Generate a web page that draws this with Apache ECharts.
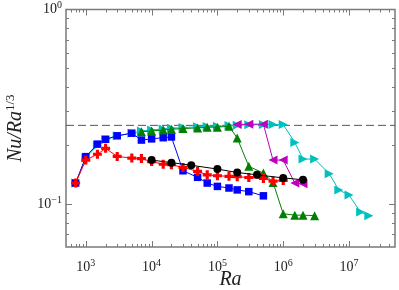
<!DOCTYPE html>
<html><head><meta charset="utf-8">
<script src="https://cdn.jsdelivr.net/npm/echarts@6/dist/echarts.min.js"></script>
<style>html,body{margin:0;padding:0;background:#fff}#c{width:399px;height:290px}</style>
</head><body><div id="c"></div>
<script>
// ---- data ----
const raBlue = [700,1000,1500,2000,3000,5000,7000,10000,15000,20000,30000,50000,70000,1e5,1.5e5,2e5,3e5,5e5];
const nuBlue = [0.128,0.175,0.203,0.215,0.224,0.231,0.213,0.216,0.219,0.221,0.148,0.137,0.128,0.123,0.1207,0.118,0.1156,0.110];

const raCyan = [700,1000,1500,2000,3000,5000,7000,10000,15000,20000,30000,50000,70000,1e5,1.5e5,2e5,3e5,5e5,7e5,1e6,1.5e6,2e6,3e6,5e6,7e6,1e7,1.5e7,2e7];
const nuCyan = [0.128,0.172,0.200,0.214,0.224,0.231,0.237,0.240,0.243,0.245,0.247,0.249,0.250,0.251,0.253,0.254,0.255,0.256,0.256,0.256,0.207,0.170,0.170,0.143,0.118,0.111,0.0907,0.087];

const raGreen = [7000,10000,15000,20000,30000,50000,70000,1e5,1.5e5,2e5,3e5,5e5,7e5,1e6,1.5e6,2e6,3e6];
const nuGreen = [0.235,0.237,0.240,0.242,0.244,0.246,0.248,0.248,0.251,0.218,0.156,0.144,0.129,0.089,0.0875,0.0875,0.087];

const raMag = [2e5,3e5,5e5,7e5,1e6,1.5e6,2e6];
const nuMag = [0.256,0.257,0.257,0.168,0.168,0.128,0.127];

const raRed = [700,1000,1500,2000,3000,5000,7000,10000,15000,20000,30000,50000,70000,1e5,1.5e5,2e5,3e5,5e5,7e5,1e6];
const nuRed = [0.128,0.168,0.180,0.193,0.1755,0.172,0.171,0.165,0.160,0.159,0.154,0.147,0.141,0.1395,0.1386,0.138,0.1367,0.135,0.131,0.132];

const raBlack = [1e4,2e4,4e4,1e5,2e5,4e5,1e6,2e6];
const nuBlack = [0.168,0.163,0.158,0.151,0.145,0.141,0.136,0.133];

const refRa = [500,5e7];
const refNu = [0.2535,0.2535];

const xMin = 500, xMax = 5e7, yMin = 0.06, yMax = 1;

// ---- helpers ----
const zip = (a,b) => a.map((v,i)=>[v,b[i]]);
const serif = 'Liberation Serif';
const plusPath = 'path://M2.6,0H5.4V2.6H8V5.4H5.4V8H2.6V5.4H0V2.6H2.6Z';
function powLabel(v){
  const l = Math.log10(v);
  const r = Math.round(l);
  if (Math.abs(l-r) > 1e-6) return '';
  return '{b|10}{s|' + (r<0 ? '\u2212'+(-r) : r) + '}';
}
const richLab = {
  b:{fontFamily:serif,fontSize:14,color:'#222'},
  s:{fontFamily:serif,fontSize:10,color:'#222',padding:[0,0,8,0]}
};

function ser(name, ra, nu, color, symbol, size, rot, z){
  return {name, type:'line', data: zip(ra,nu), symbol, symbolSize:size, symbolRotate:rot||0,
    showAllSymbol:true, lineStyle:{color, width:1}, itemStyle:{color}, z: z, animation:false};
}

const chart = echarts.init(document.getElementById('c'), null, {renderer:'canvas'});
chart.setOption({
  animation:false,
  grid:{left:66,right:4,top:9.5,bottom:43,containLabel:false,outerBoundsMode:'none',
        show:true,borderColor:'#7a7a7a',borderWidth:1.5,backgroundColor:'transparent'},
  xAxis:{type:'log',logBase:10,min:xMin,max:xMax,
    axisLine:{show:false},axisTick:{show:false},splitLine:{show:false},minorTick:{show:false},
    axisLabel:{formatter:powLabel,rich:richLab,margin:11,showMinLabel:true,showMaxLabel:true},
    name:'{i|Ra}',nameLocation:'middle',nameGap:23,nameMoveOverlap:false,
    nameTextStyle:{rich:{i:{fontFamily:serif,fontStyle:'italic',fontSize:20,color:'#222'}}}},
  yAxis:{type:'log',logBase:10,min:yMin,max:yMax,
    axisLine:{show:false},axisTick:{show:false},splitLine:{show:false},
    axisLabel:{formatter:powLabel,rich:richLab,margin:4},
    name:'{i|Nu/Ra}{s|1/3}',nameLocation:'middle',nameGap:39,nameMoveOverlap:false,
    nameTextStyle:{rich:{i:{fontFamily:serif,fontStyle:'italic',fontSize:20,color:'#222'},
                         s:{fontFamily:serif,fontSize:13,color:'#222',padding:[0,0,10,0]}}}},
  series:[
    {name:'ref',type:'line',data:zip(refRa,refNu),symbol:'none',lineStyle:{color:'#555',width:1,type:[8,4]},z:1},
    ser('cyan',raCyan,nuCyan,'#00bfbf','triangle',9,-90,2),
    ser('blue',raBlue,nuBlue,'#0000ff','rect',7.5,0,3),
    ser('green',raGreen,nuGreen,'#008000','triangle',9,0,4),
    ser('mag',raMag,nuMag,'#bf00bf','triangle',9,90,5),
    ser('red',raRed,nuRed,'#ff0000',plusPath,9,0,6),
    ser('black',raBlack,nuBlack,'#000000','circle',8,0,7)
  ]
});

// tick marks on all four sides (positions from the chart's own scales)
function addTicks(){
  const els = [];
  const col = '#7a7a7a';
  const p0 = chart.convertToPixel({gridIndex:0},[xMin,yMin]);
  const p1 = chart.convertToPixel({gridIndex:0},[xMax,yMax]);
  const bottom = p0[1], top = p1[1], left = p0[0], right = p1[0];
  for (let d=2; d<=7; d++) for (let m=1; m<=9; m++){
    const v = m*Math.pow(10,d);
    if (v < xMin*1.0001 || v > xMax*0.9999) continue;
    const x = Math.round(chart.convertToPixel({gridIndex:0},[v,1])[0])+0.5;
    const L = m===1 ? 6 : 3;
    els.push({type:'line',shape:{x1:x,y1:bottom,x2:x,y2:bottom-L},style:{stroke:col,lineWidth:1},silent:true});
    els.push({type:'line',shape:{x1:x,y1:top,x2:x,y2:top+L},style:{stroke:col,lineWidth:1},silent:true});
  }
  for (let d=-2; d<=0; d++) for (let m=1; m<=9; m++){
    const v = m*Math.pow(10,d);
    if (v < yMin*1.0001 || v > yMax*0.9999) continue;
    const y = Math.round(chart.convertToPixel({gridIndex:0},[1000,v])[1])+0.5;
    const L = m===1 ? 6 : 3;
    els.push({type:'line',shape:{x1:left,y1:y,x2:left+L,y2:y},style:{stroke:col,lineWidth:1},silent:true});
    els.push({type:'line',shape:{x1:right,y1:y,x2:right-L,y2:y},style:{stroke:col,lineWidth:1},silent:true});
  }
  chart.setOption({graphic:{elements:els}});
}
addTicks();
</script>
</body></html>
